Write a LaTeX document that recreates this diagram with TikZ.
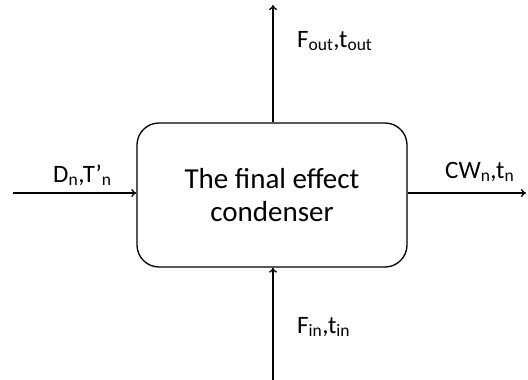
\documentclass[tikz,border=0pt]{standalone}
\usepackage{fontspec}
\setmainfont{Carlito}
\usepackage{tikz}
\usetikzlibrary{positioning, arrows.meta}
\tikzset{
    condbox/.style={draw, line width=1.3pt, rounded corners=22pt, minimum width=270pt, minimum height=144pt, align=center, font=\fontsize{29}{33}\selectfont},
    flowlbl/.style={inner sep=0pt, font=\fontsize{25}{28}\selectfont},
    flow/.style={line width=1.3pt, -{To[length=5pt, width=8pt]}}
}

\begin{document}
\begin{tikzpicture}[x=1pt, y=-1pt]
    \useasboundingbox (0, 0) rectangle (528, 380);

    % Condenseur
    \node[condbox] (cond) at (272, 195) {The final effect\\condenser};

    % Extrémités libres
    \coordinate (din) at (13, 193);
    \coordinate (cwout) at (526, 193);
    \coordinate (fout) at (273, 5);
    \coordinate (fin) at (273, 380);

    % Flux
    \draw[flow] (din) -- (din -| cond.west);
    \draw[flow] (cwout -| cond.east) -- (cwout);
    \draw[flow] (fout |- cond.north) -- (fout);
    \draw[flow] (fin) -- (fin |- cond.south);

    % Étiquettes
    \node[flowlbl, anchor=base west] (dlbl) at (53, 182) {D\textsubscript{n},T’\textsubscript{n}};
    \node[flowlbl, anchor=base west] (cwlbl) at (445, 178) {CW\textsubscript{n},t\textsubscript{n}};
    \node[flowlbl, anchor=base west] (foutlbl) at (297, 47) {F\textsubscript{out},t\textsubscript{out}};
    \node[flowlbl, anchor=base west] (finlbl) at (297, 333) {F\textsubscript{in},t\textsubscript{in}};
\end{tikzpicture}
\end{document}
